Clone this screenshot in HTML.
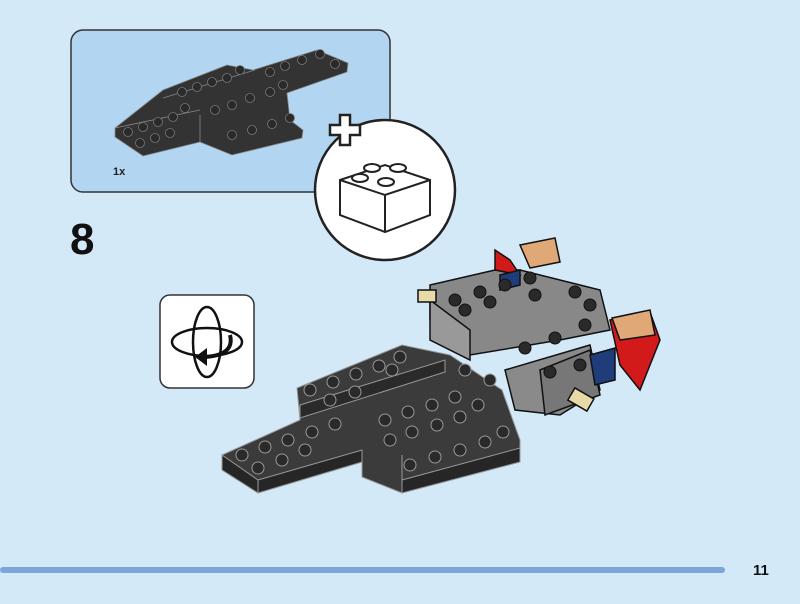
<!DOCTYPE html>
<html><head><style>
html,body{margin:0;padding:0;background:#d3e9f8;}
body{width:800px;height:604px;position:relative;overflow:hidden;font-family:"Liberation Sans",sans-serif;}
</style></head><body>
<svg width="800" height="604" viewBox="0 0 800 604" style="position:absolute;left:0;top:0">
<rect x="0" y="0" width="800" height="604" fill="#d3e9f8"/>
<!-- parts box -->
<rect x="71" y="30" width="319" height="162" rx="12" fill="#b2d6f1" stroke="#333" stroke-width="1.5"/>
<g stroke="#888" stroke-width="0.8">
<polygon points="115,128 163,90 227,65 253,70 317,50 348,63 347,72 287,93 290,120 303,130 302,138 232,155 200,142 143,156 115,137" fill="#333"/>
<line x1="163" y1="98" x2="255" y2="70"/><line x1="115" y1="128" x2="200" y2="110"/><line x1="200" y1="115" x2="200" y2="142"/>
</g>
<g fill="#2a2a2a" stroke="#777" stroke-width="0.8">
<circle cx="128" cy="132" r="4.5"/><circle cx="143" cy="127" r="4.5"/><circle cx="158" cy="122" r="4.5"/><circle cx="173" cy="117" r="4.5"/><circle cx="185" cy="108" r="4.5"/>
<circle cx="140" cy="143" r="4.5"/><circle cx="155" cy="138" r="4.5"/><circle cx="170" cy="133" r="4.5"/>
<circle cx="182" cy="92" r="4.5"/><circle cx="197" cy="87" r="4.5"/><circle cx="212" cy="82" r="4.5"/><circle cx="227" cy="78" r="4.5"/><circle cx="240" cy="70" r="4.5"/>
<circle cx="215" cy="110" r="4.5"/><circle cx="232" cy="105" r="4.5"/><circle cx="250" cy="98" r="4.5"/><circle cx="270" cy="92" r="4.5"/>
<circle cx="232" cy="135" r="4.5"/><circle cx="252" cy="130" r="4.5"/><circle cx="272" cy="124" r="4.5"/><circle cx="290" cy="118" r="4.5"/>
<circle cx="270" cy="72" r="4.5"/><circle cx="285" cy="66" r="4.5"/><circle cx="302" cy="60" r="4.5"/><circle cx="320" cy="54" r="4.5"/><circle cx="335" cy="64" r="4.5"/><circle cx="283" cy="85" r="4.5"/>
</g>
<text x="113" y="175" font-size="11" font-weight="bold" fill="#222">1x</text>
<!-- circle -->
<circle cx="385" cy="190" r="70" fill="#fff" stroke="#222" stroke-width="2.5"/>
<path d="M330,125 h10 v-10 h10 v10 h10 v10 h-10 v10 h-10 v-10 h-10z" fill="#fff" stroke="#222" stroke-width="2.5"/>
<g fill="#fff" stroke="#222" stroke-width="2">
<polygon points="340,180 385,165 430,180 430,215 385,232 340,215"/>
<polyline points="340,180 385,195 430,180" fill="none"/><line x1="385" y1="195" x2="385" y2="232"/>
<ellipse cx="372" cy="168" rx="8" ry="4"/><ellipse cx="398" cy="168" rx="8" ry="4"/><ellipse cx="360" cy="178" rx="8" ry="4"/><ellipse cx="386" cy="182" rx="8" ry="4"/>
</g>
<text x="70" y="254" font-size="44" font-weight="bold" fill="#111">8</text>
<!-- rotate icon -->
<rect x="160" y="295" width="94" height="93" rx="10" fill="#fff" stroke="#333" stroke-width="1.5"/>
<ellipse cx="207" cy="342" rx="35" ry="14" fill="none" stroke="#111" stroke-width="2.5"/>
<ellipse cx="207" cy="342" rx="14" ry="35" fill="none" stroke="#111" stroke-width="2.5"/>
<path d="M230,335 q5,20 -25,22" fill="none" stroke="#111" stroke-width="4"/>
<polygon points="195,357 207,348 207,366" fill="#111"/>
<!-- model -->
<g stroke="#111" stroke-width="1.5">
<polygon points="430,285 495,270 520,270 600,290 610,330 560,340 470,355 430,320" fill="#888"/>
<polygon points="430,300 470,330 470,360 430,340" fill="#999"/>
</g>
<g stroke="#999" stroke-width="1">
<polygon points="222,455 300,420 297,388 402,345 450,355 502,390 520,440 520,462 402,493 362,477 362,462 258,493 222,470" fill="#3b3b3b"/>
<polygon points="222,455 258,480 258,493 222,470" fill="#262626"/>
<polygon points="258,480 362,450 362,462 258,493" fill="#262626"/>
<polygon points="402,480 520,448 520,462 402,493" fill="#262626"/>
<polygon points="300,405 445,360 445,372 300,418" fill="#2a2a2a"/>
<line x1="362" y1="450" x2="362" y2="477"/><line x1="402" y1="455" x2="402" y2="493"/>
</g>
<g stroke="#111" stroke-width="1.5">
<polygon points="505,370 590,345 600,390 560,415 515,410" fill="#8a8a8a"/>
<polygon points="540,370 590,350 600,395 545,415" fill="#777"/>
<polygon points="510,260 495,250 495,270 520,275" fill="#d31a1a"/>
<polygon points="520,245 555,238 560,262 530,268" fill="#e0a877"/>
<polygon points="610,320 650,312 660,340 640,390 620,365" fill="#d31a1a"/>
<polygon points="612,318 650,310 655,335 620,340" fill="#e0a877"/>
<polygon points="590,355 615,348 615,380 595,385" fill="#1f3d7a"/>
<polygon points="500,275 520,270 520,285 500,290" fill="#1f3d7a"/>
<rect x="570" y="392" width="22" height="14" fill="#e8d9a8" transform="rotate(30 580 399)"/>
<rect x="418" y="290" width="18" height="12" fill="#e8d9a8"/>
</g>
<g fill="#2a2a2a" stroke="#999" stroke-width="1">
<circle cx="242" cy="455" r="6"/><circle cx="265" cy="447" r="6"/><circle cx="288" cy="440" r="6"/><circle cx="312" cy="432" r="6"/><circle cx="335" cy="424" r="6"/>
<circle cx="258" cy="468" r="6"/><circle cx="282" cy="460" r="6"/><circle cx="305" cy="450" r="6"/>
<circle cx="310" cy="390" r="6"/><circle cx="333" cy="382" r="6"/><circle cx="356" cy="374" r="6"/><circle cx="379" cy="366" r="6"/><circle cx="400" cy="357" r="6"/>
<circle cx="330" cy="400" r="6"/><circle cx="355" cy="392" r="6"/><circle cx="392" cy="370" r="6"/>
<circle cx="385" cy="420" r="6"/><circle cx="408" cy="412" r="6"/><circle cx="432" cy="405" r="6"/><circle cx="455" cy="397" r="6"/>
<circle cx="390" cy="440" r="6"/><circle cx="412" cy="432" r="6"/><circle cx="437" cy="425" r="6"/><circle cx="460" cy="417" r="6"/><circle cx="478" cy="405" r="6"/>
<circle cx="410" cy="465" r="6"/><circle cx="435" cy="457" r="6"/><circle cx="460" cy="450" r="6"/><circle cx="485" cy="442" r="6"/><circle cx="503" cy="432" r="6"/>
<circle cx="465" cy="370" r="6"/><circle cx="490" cy="380" r="6"/>
</g>
<g fill="#2a2a2a" stroke="#111">
<circle cx="455" cy="300" r="6"/><circle cx="480" cy="292" r="6"/><circle cx="505" cy="285" r="6"/><circle cx="530" cy="278" r="6"/>
<circle cx="465" cy="310" r="6"/><circle cx="490" cy="302" r="6"/><circle cx="535" cy="295" r="6"/>
<circle cx="575" cy="292" r="6"/><circle cx="590" cy="305" r="6"/>
<circle cx="525" cy="348" r="6"/><circle cx="555" cy="338" r="6"/><circle cx="585" cy="325" r="6"/>
<circle cx="550" cy="372" r="6"/><circle cx="580" cy="365" r="6"/>
</g>
<rect x="0" y="567" width="725" height="6" rx="3" fill="#7da5d9"/>
<text x="753" y="575" font-size="15" font-weight="bold" fill="#111">11</text>
</svg>
</body></html>
